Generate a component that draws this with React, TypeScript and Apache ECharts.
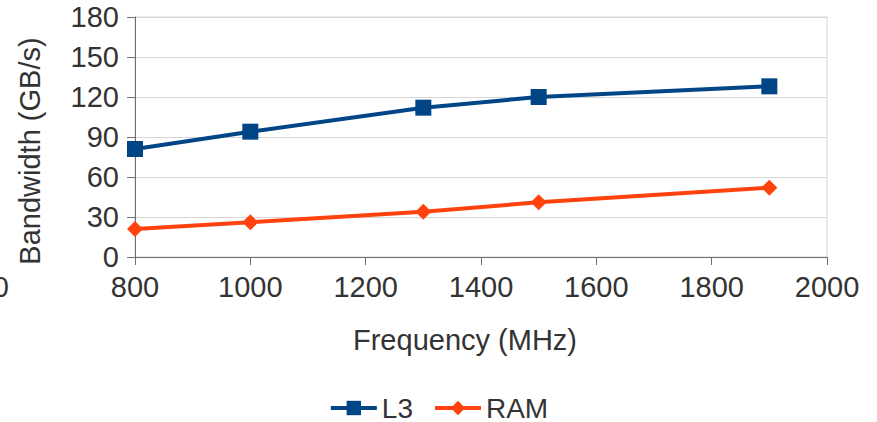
import React, { useEffect, useRef } from "react";
import * as echarts from "echarts";

const frequencies = [800, 1000, 1300, 1500, 1900];
const l3Values = [81, 94, 112, 120, 128];
const ramValues = [21, 26, 34, 41, 52];
const xTitle = "Frequency (MHz)";
const yTitle = "Bandwidth (GB/s)";

const FONT = "'Liberation Sans', Arial, sans-serif";
const TEXT = "#333333";
const FS = 29;

export default function App() {
  const ref = useRef<HTMLDivElement>(null);
  useEffect(() => {
    if (!ref.current) return;
    const chart = echarts.init(ref.current, undefined, { renderer: "svg" });
    chart.setOption({
      animation: false,
      backgroundColor: "#ffffff",
      textStyle: { fontFamily: FONT },
      grid: {
        left: 135,
        right: 50,
        top: 17,
        bottom: 165,
        show: true,
        borderColor: "#d6d6d6",
        borderWidth: 1,
      },
      legend: {
        left: "center",
        top: 394,
        padding: 0,
        itemWidth: 46,
        itemHeight: 18,
        itemGap: 20,
        lineStyle: { width: 4 },
        textStyle: { fontSize: 28, lineHeight: 28, color: TEXT, fontFamily: FONT },
        data: ["L3", "RAM"],
      },
      xAxis: {
        type: "value",
        min: 800,
        max: 2000,
        interval: 200,
        axisLine: { show: true, lineStyle: { color: "#6e6e6e", width: 1 } },
        axisTick: { show: true, length: 8, lineStyle: { color: "#6e6e6e" } },
        splitLine: { show: false },
        axisLabel: {
          fontSize: FS,
          color: TEXT,
          margin: 15,
          fontFamily: FONT,
          formatter: (v: number) => String(v),
        },
      },
      yAxis: {
        type: "value",
        min: 0,
        max: 180,
        interval: 30,
        axisLine: { show: true, lineStyle: { color: "#6e6e6e", width: 1 } },
        axisTick: { show: true, length: 8, lineStyle: { color: "#6e6e6e" } },
        splitLine: { show: true, lineStyle: { color: "#d6d6d6", width: 1 } },
        axisLabel: {
          fontSize: FS,
          color: TEXT,
          margin: 16,
          fontFamily: FONT,
          formatter: (v: number) => String(v),
        },
      },
      graphic: [
        {
          type: "text",
          x: 30,
          y: 151,
          rotation: Math.PI / 2,
          style: {
            text: yTitle,
            fontSize: FS,
            fill: TEXT,
            fontFamily: FONT,
            align: "center",
            verticalAlign: "middle",
          },
        },
        {
          type: "text",
          x: 465,
          y: 340,
          style: {
            text: xTitle,
            fontSize: FS,
            fill: TEXT,
            fontFamily: FONT,
            align: "center",
            verticalAlign: "middle",
          },
        },
        {
          type: "text",
          x: 9,
          y: 287,
          style: {
            text: "0",
            fontSize: FS,
            fill: TEXT,
            fontFamily: FONT,
            align: "right",
            verticalAlign: "middle",
          },
        },
      ],
      series: [
        {
          name: "L3",
          type: "line",
          data: frequencies.map((f, i) => [f, l3Values[i]]),
          symbol: "rect",
          symbolSize: 16,
          lineStyle: { color: "#004586", width: 4 },
          itemStyle: { color: "#004586" },
        },
        {
          name: "RAM",
          type: "line",
          data: frequencies.map((f, i) => [f, ramValues[i]]),
          symbol: "diamond",
          symbolSize: 16,
          lineStyle: { color: "#ff420e", width: 4 },
          itemStyle: { color: "#ff420e" },
        },
      ],
    });
    return () => chart.dispose();
  }, []);
  return <div ref={ref} style={{ width: 877, height: 422, position: "absolute", left: 0, top: 0 }} />;
}
